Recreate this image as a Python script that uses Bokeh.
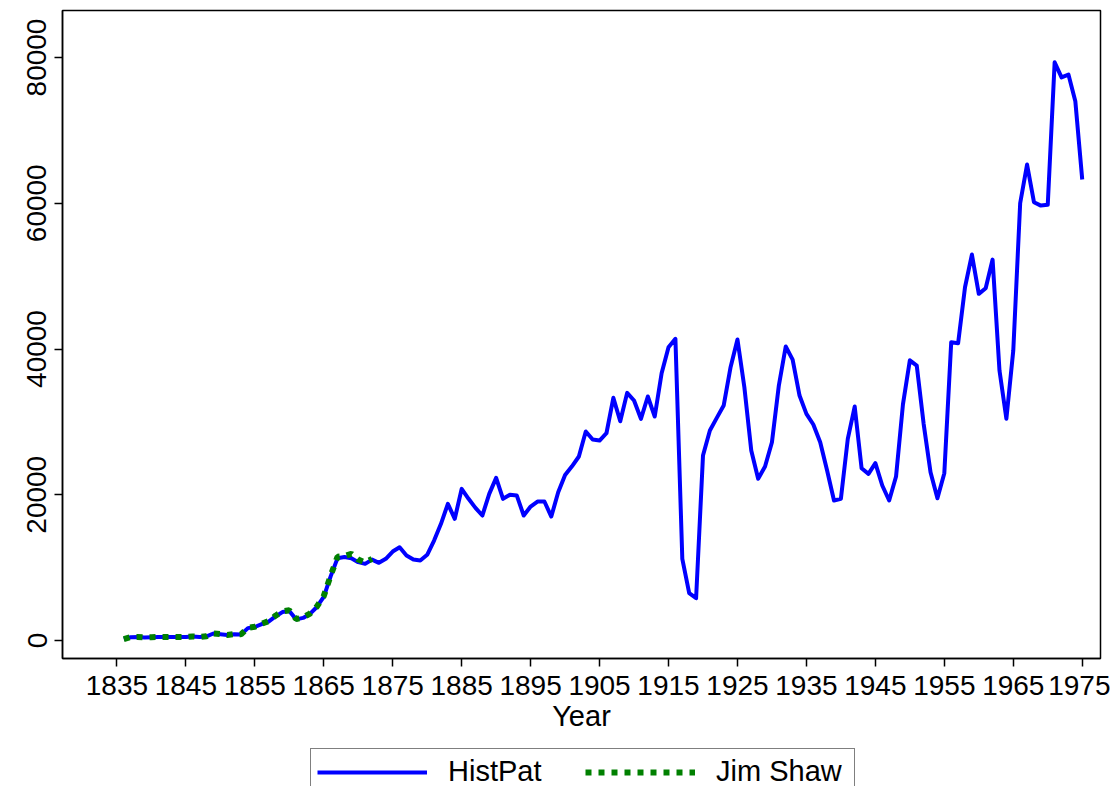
from bokeh.plotting import figure
from bokeh.layouts import column
from bokeh.models import Range1d, Legend, LegendItem, FixedTicker
from bokeh.embed import file_html
from bokeh.resources import INLINE

years_histpat = list(range(1836, 1976))
histpat = [
    200, 450, 480, 420, 450, 470, 470, 480, 470, 470,          # 1836-1845
    550, 480, 560, 960, 850, 740, 850, 830, 1700, 1850,        # 1846-1855
    2250, 2600, 3300, 3900, 4050, 2900, 3100, 3650, 4600, 6000,  # 1856-1865
    8800, 11300, 11450, 11300, 10750, 10520, 11100, 10660, 11210, 12210,  # 1866-1875
    12800, 11660, 11110, 10980, 11760, 13720, 16010, 18750, 16700, 20810,  # 1876-1885
    19440, 18200, 17150, 20120, 22320, 19440, 19990, 19890, 17150, 18380,  # 1886-1895
    19070, 19070, 17010, 20350, 22700, 23900, 25250, 28680, 27580, 27440,  # 1896-1905
    28440, 33300, 30090, 33980, 32930, 30420, 33480, 30730, 36670, 40240,  # 1906-1915
    41400, 11200, 6490, 5800, 25380, 28810, 30550, 32240, 37500, 41300,    # 1916-1925
    34750, 26070, 22190, 23870, 27210, 34980, 40340, 38550, 33610, 31100,  # 1926-1935
    29640, 27210, 23320, 19210, 19440, 27670, 32100, 23640, 22870, 24330,  # 1936-1945
    21270, 19210, 22500, 32400, 38450, 37730, 29730, 23090, 19520, 22960,  # 1946-1955
    40930, 40790, 48470, 52960, 47570, 48330, 52270, 37040, 30420, 39790,  # 1956-1965
    60000, 65310, 60140, 59680, 59780, 79340, 77280, 77660, 74000, 63260,  # 1966-1975
]

years_shaw = list(range(1836, 1873))
shaw = [
    200, 460, 490, 430, 460, 480, 480, 490, 480, 480,
    560, 490, 580, 980, 880, 760, 880, 850, 1750, 1880,
    2300, 2650, 3400, 4000, 4150, 2950, 3150, 3700, 4650, 6100,
    8900, 11500, 11600, 11900, 11100, 10700, 11200,
]

x_ticks = list(range(1835, 1976, 10))
y_ticks = [0, 20000, 40000, 60000, 80000]
series_names = ["HistPat", "Jim Shaw"]

FONT = "Liberation Sans"
BLUE = "#0000ff"
GREEN = "#008000"
W = 1110

p = figure(width=W, height=744, output_backend="svg", toolbar_location=None,
           x_range=Range1d(1827.11, 1977.65), y_range=Range1d(-2470, 86450),
           min_border_left=62, min_border_right=10, min_border_top=10,
           min_border_bottom=86)
p.grid.visible = False
p.outline_line_color = "black"
p.outline_line_width = 1.5
p.background_fill_color = "white"
p.border_fill_color = "white"

p.line(years_histpat, histpat, line_color=BLUE, line_width=4, line_join="round")
p.line(years_shaw, shaw, line_color=GREEN, line_width=6, line_dash="6 7")

for ax in (p.xaxis[0], p.yaxis[0]):
    ax.axis_line_color = "black"
    ax.axis_line_width = 1.5
    ax.major_tick_line_color = "black"
    ax.major_tick_line_width = 1.5
    ax.major_tick_out = 8
    ax.major_tick_in = 0
    ax.minor_tick_line_color = None
    ax.major_label_text_font = FONT
    ax.major_label_text_color = "black"
    ax.axis_label_text_font = FONT
    ax.axis_label_text_font_style = "normal"
    ax.axis_label_text_color = "black"

p.xaxis.major_label_text_font_size = "28px"
p.xaxis.axis_label_text_font_size = "29px"
p.yaxis.major_label_text_font_size = "28px"
p.xaxis.ticker = FixedTicker(ticks=x_ticks)
p.yaxis.ticker = FixedTicker(ticks=y_ticks)
p.xaxis.axis_label = "Year"
p.xaxis.major_label_standoff = 9
p.xaxis.axis_label_standoff = 2
p.yaxis.major_label_orientation = "vertical"
p.yaxis.major_label_standoff = 8

# legend strip below the chart (box runs past the bottom edge, as in the reference)
q = figure(width=W, height=42, output_backend="svg", toolbar_location=None,
           x_range=Range1d(0, 1), y_range=Range1d(0, 1),
           min_border_left=62, min_border_right=10, min_border_top=0,
           min_border_bottom=0)
q.axis.visible = False
q.grid.visible = False
q.outline_line_color = None
q.border_fill_color = "white"
q.background_fill_color = "white"
# same series drawn far outside this strip's ranges; only their legend glyphs show
l1 = q.line(years_histpat, histpat, line_color=BLUE, line_width=4)
l2 = q.line(years_shaw, shaw, line_color=GREEN, line_width=6, line_dash="6 7")

legend = Legend(items=[LegendItem(label=series_names[0], renderers=[l1]),
                       LegendItem(label=series_names[1], renderers=[l2])],
                orientation="horizontal", location=(248, -9))
legend.label_text_font = FONT
legend.label_text_font_size = "29px"
legend.label_text_color = "black"
legend.glyph_width = 110
legend.glyph_height = 30
legend.label_height = 30
legend.label_width = 132
legend.label_standoff = 21
legend.spacing = 5
legend.padding = 6
legend.margin = 0
legend.border_line_color = "black"
legend.border_line_width = 1.5
legend.background_fill_color = "white"
legend.background_fill_alpha = 1.0
q.add_layout(legend, "center")

layout = column(p, q, spacing=0)
open("out.html", "w").write(file_html(layout, INLINE))
